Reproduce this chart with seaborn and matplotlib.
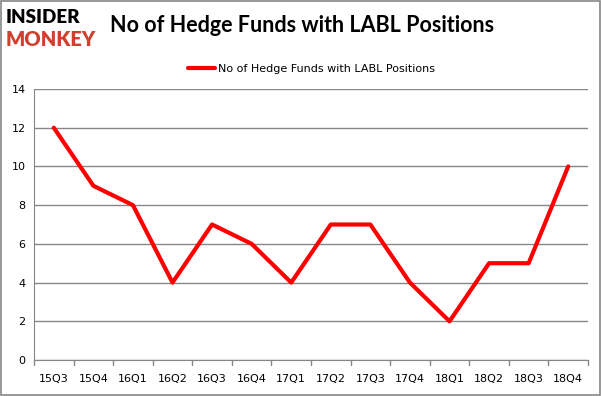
import seaborn as sns
import pandas as pd
import matplotlib.pyplot as plt
from matplotlib.patches import Rectangle

quarters = ["15Q3", "15Q4", "16Q1", "16Q2", "16Q3", "16Q4", "17Q1",
            "17Q2", "17Q3", "17Q4", "18Q1", "18Q2", "18Q3", "18Q4"]
funds = [12, 9, 8, 4, 7, 6, 4, 7, 7, 4, 2, 5, 5, 10]
y_ticks = [0, 2, 4, 6, 8, 10, 12, 14]

df = pd.DataFrame({"quarter": quarters, "funds": funds})
df["pos"] = range(len(df))

sns.set_style("white")
plt.rcParams["font.family"] = ["DejaVu Sans"]
plt.rcParams["text.color"] = "black"
plt.rcParams["xtick.color"] = "black"
plt.rcParams["ytick.color"] = "black"

fig = plt.figure(figsize=(6.01, 3.96), dpi=100)
ax = fig.add_axes([34 / 601, 1 - 360 / 396, (588 - 34) / 601, (360 - 89) / 396])

sns.lineplot(data=df, x="pos", y="funds", color="#ff0000", linewidth=3,
             ax=ax, label="No of Hedge Funds with LABL Positions")

ax.set_xlim(-0.5, len(quarters) - 0.5)
ax.set_ylim(0, 14)
ax.set_yticks(y_ticks)
ax.set_yticklabels([str(v) for v in y_ticks], fontsize=8)
ax.set_xticks(range(len(quarters)))
ax.set_xticklabels(quarters, fontsize=8)
ax.tick_params(axis="x", length=0, pad=10)
ax.tick_params(axis="y", length=0, pad=6)
# boundary tick marks between categories
for b in range(len(quarters) + 1):
    ax.plot([b - 0.5, b - 0.5], [0, -0.25], color="#868686", lw=1, clip_on=False)
ax.grid(axis="y", color="#868686", linewidth=1)
ax.set_axisbelow(True)
for s in ["top", "right"]:
    ax.spines[s].set_visible(False)
ax.spines["left"].set_color("#868686")
ax.spines["bottom"].set_color("#868686")
ax.set_xlabel("")
ax.set_ylabel("")

ax.legend(loc="lower center", bbox_to_anchor=(0.5, 1.02), frameon=False,
          fontsize=8, handlelength=2.5, handletextpad=0.2)

fig.text(0.502, 0.935, "No of Hedge Funds with LABL Positions", ha="center",
         va="center", fontsize=15.5, fontweight="bold", family="Lato")
fig.text(0.01, 0.955, "INSIDER", fontsize=13.5, fontweight="heavy",
         color="black", va="center", ha="left", family="Lato")
fig.text(0.01, 0.9, "MONKEY", fontsize=14.5, fontweight="heavy",
         color="#d0402f", va="center", ha="left", family="Lato")

fig.patches.append(Rectangle((0.001, 0.002), 0.997, 0.995, transform=fig.transFigure,
                             fill=False, edgecolor="#868686", linewidth=1.2))

fig.savefig("out.png", dpi=100)
